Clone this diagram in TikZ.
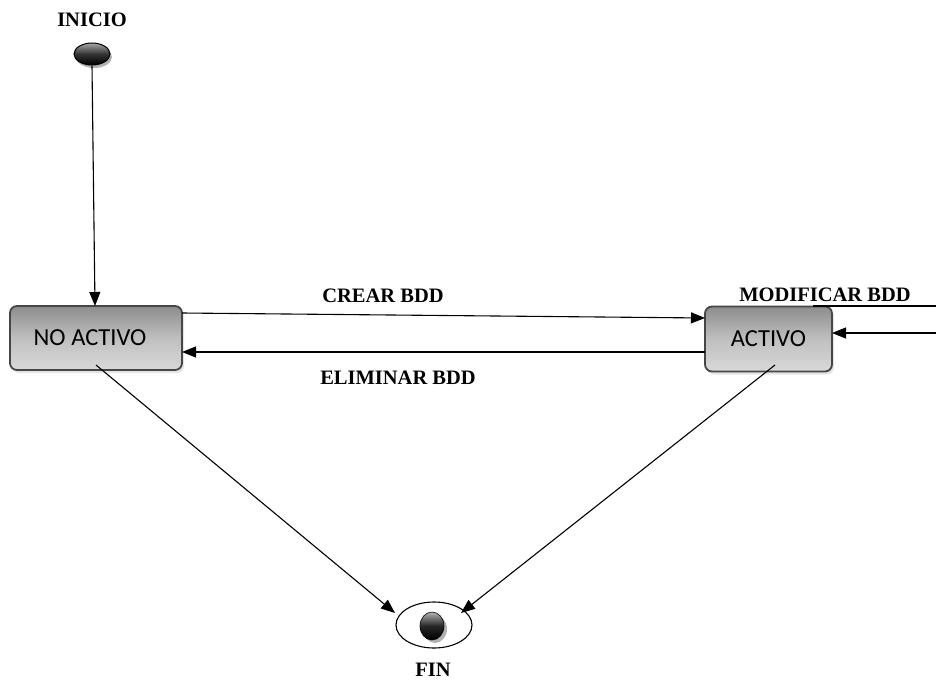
\documentclass[tikz,border=0pt]{standalone}
\usepackage{fontspec}
\setmainfont{Liberation Serif}
\newfontfamily\boxfont{Carlito}
\usetikzlibrary{arrows.meta,shapes.geometric,shadows}
\begin{document}
\begin{tikzpicture}[x=1pt,y=-1pt,
  lbl/.style={font=\bfseries\fontsize{20.5}{22}\selectfont, inner sep=0pt},
  state/.style={draw=gray!55!black, line width=1.8pt, rounded corners=7pt,
    shading=axis, shading angle=45, top color=gray!90, bottom color=gray!30,
    middle color=gray!50,
    drop shadow={shadow xshift=2pt, shadow yshift=-3pt, fill=gray!40},
    font=\boxfont\fontsize{24.5}{26}\selectfont, inner sep=0pt},
  conn/.style={line width=1.1pt, -{Triangle[length=14pt,width=11pt]}},
  plain/.style={line width=1.1pt}]
\useasboundingbox (0,0) rectangle (936,685);
% start
\node[lbl] (ini) at (92,20) {INICIO};
\fill[gray!60] (94,57) ellipse [x radius=18, y radius=11];
\node[ellipse, draw=black, line width=1pt, minimum width=36pt, minimum height=22pt,
  inner sep=0pt, top color=gray!70, bottom color=black, middle color=black!80] (start) at (92,54) {};
% states
\node[state, minimum width=172pt, minimum height=64pt] (na) at (96,338) {\hspace*{-12pt}NO ACTIVO};
\node[state, minimum width=127pt, minimum height=65pt] (ac) at (768.5,339) {ACTIVO};
% end
\node[ellipse, draw=black, line width=1.1pt, minimum width=76pt, minimum height=46pt, inner sep=0pt] (fin) at (434,625) {};
\fill[gray!60] (435,629) ellipse [x radius=12, y radius=14];
\node[ellipse, draw=black, line width=0.6pt, minimum width=24pt, minimum height=28pt, inner sep=0pt,
  top color=gray!60, bottom color=black, middle color=black!85] (dot) at (432,626) {};
\node[lbl] (finl) at (433,670) {FIN};
% transitions
\coordinate (s1) at (95,306);
\draw[conn] (start.south) -- (s1);
\coordinate (c0) at (182,313);
\coordinate (c1) at (705,318);
\draw[conn] (c0) -- (c1);
\node[lbl] (crear) at (383,296) {CREAR BDD};
\coordinate (e0) at (705,352);
\coordinate (e1) at (182,352);
\draw[conn] (e0) -- (e1);
\node[lbl] (elim) at (398,378) {ELIMINAR BDD};
\coordinate (m0) at (813,306);
\coordinate (m1) at (936,306);
\draw[plain] (m0) -- (m1);
\coordinate (m2) at (936,333);
\coordinate (m3) at (832,333);
\draw[conn] (m2) -- (m3);
\node[lbl] (mod) at (825,295) {MODIFICAR BDD};
\coordinate (f0) at (96,365);
\coordinate (f1) at (395,613);
\draw[conn] (f0) -- (f1);
\coordinate (g0) at (775,365);
\coordinate (g1) at (461,613);
\draw[conn] (g0) -- (g1);
\end{tikzpicture}
\end{document}
